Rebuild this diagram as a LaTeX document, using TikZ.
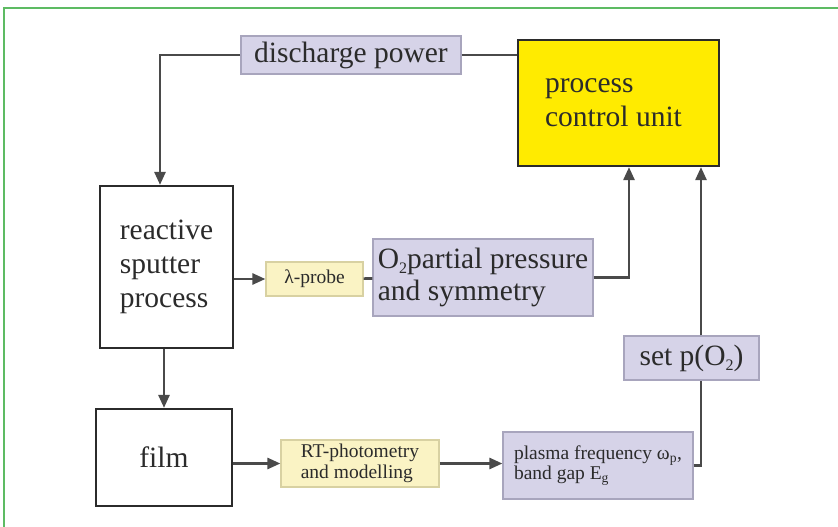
\documentclass[tikz,border=0pt]{standalone}
\usepackage{fontspec}
\setmainfont{Liberation Serif}
\usepackage{xcolor}
\usetikzlibrary{positioning,arrows.meta}
\definecolor{cInk}{HTML}{2B2B2B}
\definecolor{cLine}{HTML}{4A4A4A}
\definecolor{cLav}{HTML}{D6D3E8}
\definecolor{cLavE}{HTML}{A8A5BD}
\definecolor{cYel}{HTML}{FFEB00}
\definecolor{cPale}{HTML}{FAF3C4}
\definecolor{cPaleE}{HTML}{D8D1A2}
\definecolor{cFrame}{HTML}{5DBB63}
\newcommand{\lowtwo}{\raisebox{-0.4ex}{\fontsize{16}{16}\selectfont 2}}
\tikzset{
  blk/.style={draw=cInk, line width=2.2pt, fill=white, align=left,
              inner sep=0pt, text=cInk, font=\fontsize{29.5}{34}\selectfont},
  blkY/.style={blk, fill=cYel},
  blkL/.style={blk, draw=cLavE, line width=1.2pt, fill=cLav},
  blkP/.style={blk, draw=cPaleE, line width=1.2pt, fill=cPale},
  sm/.style={font=\fontsize{19.5}{20.5}\selectfont},
  ar/.style={-{Triangle[length=13pt,width=11pt]}, cLine, line width=2.6pt},
  ln/.style={cLine, line width=2.6pt}
}

\begin{document}
\begin{tikzpicture}[x=1pt, y=-1pt]
\useasboundingbox (0,0) rectangle (838,527);
% frame
\draw[cFrame, line width=2pt] (3.5,527) -- (3.5,8.5) -- (838,8.5);
% top row
\node[blkL, minimum width=220pt, minimum height=38pt] (power) at (351,55) {discharge power};
\node[blkY, minimum width=201pt, minimum height=126pt] (pcu) at (618.5,103)
  {process\\control unit\kern10pt};
% middle row
\node[blk, minimum width=133pt, minimum height=162pt] (sputter) at (166.5,267)
  {reactive\\sputter\\process};
\node[blkP, sm, minimum width=97pt, minimum height=34pt] (probe) at (314.5,279) {λ-probe};
\node[blkL, minimum width=220pt, minimum height=77pt, font=\fontsize{29.5}{32}\selectfont] (otwo)
  at (483,277.5) {O\lowtwo partial pressure\\and symmetry};
\node[blkL, minimum width=135pt, minimum height=44pt] (setp) at (691.5,358) {set p(O\lowtwo)};
% bottom row
\node[blk, minimum width=136pt, minimum height=97pt] (film) at (164,457.5) {film};
\node[blkP, sm, minimum width=158pt, minimum height=47pt] (rt) at (360,463.5)
  {RT-photometry\\and modelling};
\node[blkL, sm, minimum width=190pt, minimum height=67pt] (plasma) at (598,465.5)
  {plasma frequency ω\textsubscript{p},\\band gap E\textsubscript{g}};
\coordinate (up) at ([xshift=82.5pt]pcu.south);
% connectors
\draw[ar] (power.west) -| ([xshift=-6.5pt]sputter.north);
\draw[ln] (power.east) -- (pcu.west |- power.east);
\draw[ar] (sputter.east |- probe.west) -- (probe.west);
\draw[ln] (probe) -- (otwo);
\draw[ar] (otwo.east) -| ([xshift=10.5pt]pcu.south);
\draw[ar] (sputter.south -| film.north) -- (film.north);
\draw[ar] (film.east |- rt.west) -- (rt.west);
\draw[ar] (rt.east) -- (rt.east -| plasma.west);
\draw[ln] (plasma.east) -| (setp.south -| up);
\draw[ar] (setp.north -| up) -- (up);
\end{tikzpicture}
\end{document}
